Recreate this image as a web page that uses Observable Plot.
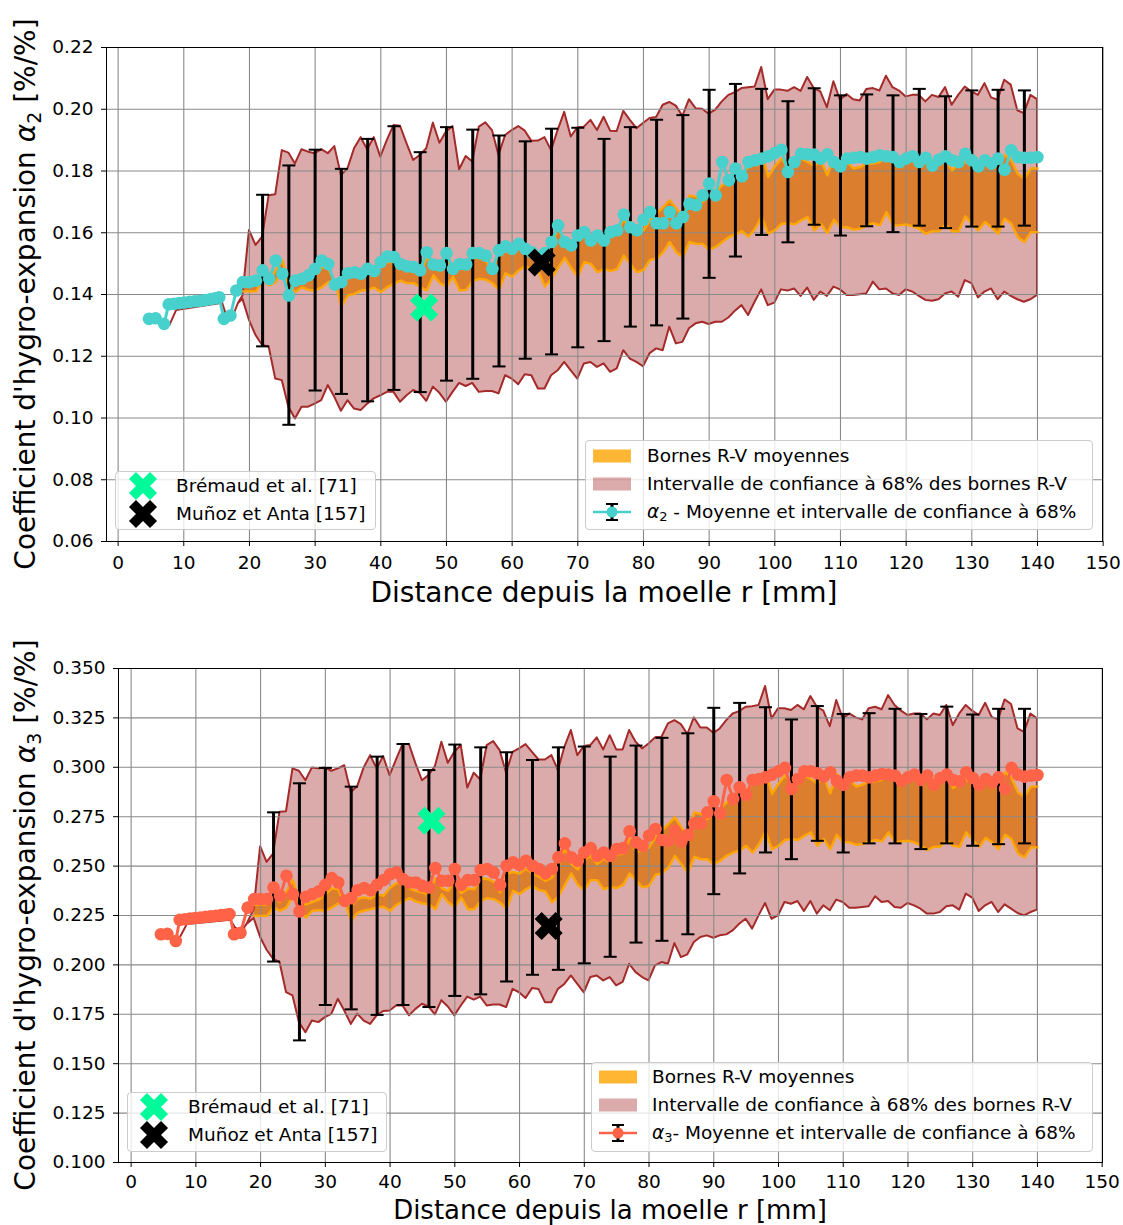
<!DOCTYPE html>
<html><head><meta charset="utf-8">
<script src="https://cdn.jsdelivr.net/npm/d3@7"></script>
<script src="https://cdn.jsdelivr.net/npm/@observablehq/plot@0.6"></script>
<style>
html,body{margin:0;padding:0;background:#fff;overflow:hidden;width:1123px;height:1225px;position:relative}
body{font-family:"DejaVu Sans",sans-serif;color:#000}
.panel{position:absolute;left:0;width:1123px}
.leg{position:absolute;box-sizing:border-box;border:1px solid #cccccc;border-radius:4px;background:rgba(255,255,255,0.8)}
.ltxt{position:absolute;height:28px;line-height:28px;font-size:18.5px;white-space:nowrap}
.lsym{position:absolute}
</style></head><body>
<div id="p1" class="panel" style="top:0;height:620px"></div>
<div id="p2" class="panel" style="top:620px;height:605px"></div>
<script>
// ---------- shared positions ----------
const xTicks = [0,10,20,30,40,50,60,70,80,90,100,110,120,130,140,150];
const bandR = d3.range(19, 141);      // r (mm) of band samples
const meanR = d3.range(18, 141);      // r (mm) of mean samples
const barR = [22,26,30,34,38,42,46,50,54,58,62,66,70,74,78,82,86,90,94,98,102,106,110,114,118,122,126,130,134,138];

// ---------- panel 1 : alpha2 ----------
const a2MeanEarlyR = [4.7,5.7,7.0,7.7,8.5,9.3,10.1,10.9,11.7,12.5,13.3,14.1,14.8,15.4,16.1,17.1];
const a2MeanEarly = [0.1321,0.1323,0.1305,0.1368,0.1370,0.1372,0.1374,0.1376,0.1378,0.1380,0.1382,0.1385,0.1388,0.1391,0.1321,0.1332];
const a2CiEarlyR = [7.9,8.9,15.9,16.6,17.6,18.3];
const a2CiEarly = [0.1300,0.1348,0.1372,0.1326,0.1332,0.1370];
const a2CiHi = [
0.1395,0.1607,0.1559,0.1586,0.1720,0.1723,0.1866,0.1858,0.1823,0.1869,
0.1861,0.1856,0.1869,0.1856,0.1879,0.1785,0.1807,0.1872,0.1908,0.1869,
0.1908,0.1845,0.1899,0.1947,0.1945,0.1888,0.1834,0.1850,0.1872,0.1955,
0.1890,0.1926,0.1944,0.1804,0.1847,0.1829,0.1942,0.1956,0.1931,0.1850,
0.1915,0.1931,0.1944,0.1929,0.1896,0.1897,0.1908,0.1866,0.1931,0.1990,
0.1910,0.1940,0.1942,0.1964,0.1931,0.1974,0.1929,0.1928,0.1993,0.1964,
0.1937,0.1954,0.1970,0.1973,0.2013,0.2022,0.2010,0.1977,0.2031,0.2002,
0.2000,0.1984,0.1997,0.2024,0.2045,0.2054,0.2067,0.2070,0.2072,0.2135,
0.2031,0.2062,0.2062,0.2058,0.2070,0.2058,0.2103,0.2067,0.2056,0.2005,
0.2089,0.2029,0.2048,0.2031,0.2027,0.2064,0.2067,0.2059,0.2107,0.2070,
0.2059,0.2040,0.2045,0.2045,0.2024,0.2045,0.2038,0.2070,0.2013,0.2045,
0.2072,0.2056,0.2045,0.2083,0.2037,0.2029,0.2094,0.2078,0.1995,0.1986,
0.2045,0.2031];
const a2CiLo = [
0.1385,0.1316,0.1267,0.1235,0.1230,0.1126,0.1121,0.1035,0.0997,0.1035,
0.1035,0.1045,0.1056,0.1105,0.1067,0.1022,0.1056,0.1029,0.1024,0.1045,
0.1062,0.1072,0.1083,0.1083,0.1051,0.1072,0.1089,0.1080,0.1054,0.1100,
0.1080,0.1051,0.1083,0.1112,0.1102,0.1112,0.1083,0.1086,0.1086,0.1078,
0.1137,0.1126,0.1108,0.1140,0.1137,0.1094,0.1094,0.1137,0.1153,0.1180,
0.1153,0.1126,0.1175,0.1180,0.1164,0.1175,0.1148,0.1159,0.1218,0.1191,
0.1180,0.1166,0.1208,0.1224,0.1218,0.1294,0.1240,0.1245,0.1289,0.1305,
0.1310,0.1303,0.1310,0.1310,0.1324,0.1346,0.1364,0.1332,0.1375,0.1415,
0.1364,0.1372,0.1415,0.1411,0.1418,0.1394,0.1421,0.1381,0.1408,0.1394,
0.1424,0.1415,0.1397,0.1397,0.1399,0.1402,0.1440,0.1415,0.1418,0.1402,
0.1397,0.1415,0.1408,0.1394,0.1381,0.1378,0.1383,0.1402,0.1408,0.1391,
0.1445,0.1435,0.1389,0.1408,0.1418,0.1383,0.1408,0.1394,0.1383,0.1375,
0.1383,0.1397];
const a2RvLo = [
0.1410,0.1410,0.1410,0.1445,0.1430,0.1440,0.1476,0.1430,0.1408,0.1424,
0.1415,0.1413,0.1424,0.1440,0.1443,0.1361,0.1397,0.1402,0.1413,0.1415,
0.1422,0.1408,0.1424,0.1435,0.1445,0.1437,0.1437,0.1424,0.1413,0.1462,
0.1437,0.1426,0.1458,0.1413,0.1415,0.1443,0.1451,0.1448,0.1437,0.1415,
0.1469,0.1458,0.1478,0.1493,0.1478,0.1476,0.1426,0.1451,0.1486,0.1519,
0.1486,0.1458,0.1505,0.1499,0.1472,0.1483,0.1476,0.1483,0.1526,0.1499,
0.1472,0.1480,0.1512,0.1516,0.1537,0.1570,0.1537,0.1521,0.1570,0.1564,
0.1564,0.1545,0.1554,0.1570,0.1586,0.1595,0.1605,0.1588,0.1613,0.1653,
0.1597,0.1608,0.1629,0.1631,0.1627,0.1640,0.1651,0.1608,0.1629,0.1599,
0.1642,0.1618,0.1618,0.1610,0.1613,0.1624,0.1631,0.1624,0.1667,0.1624,
0.1624,0.1627,0.1621,0.1613,0.1597,0.1605,0.1605,0.1627,0.1605,0.1605,
0.1653,0.1629,0.1608,0.1635,0.1618,0.1597,0.1645,0.1631,0.1586,0.1570,
0.1602,0.1602];
const a2RvHi = [
0.1435,0.1437,0.1437,0.1462,0.1445,0.1478,0.1510,0.1440,0.1437,0.1445,
0.1452,0.1468,0.1488,0.1485,0.1437,0.1432,0.1455,0.1460,0.1455,0.1470,
0.1465,0.1490,0.1505,0.1505,0.1488,0.1480,0.1475,0.1468,0.1520,0.1488,
0.1480,0.1515,0.1472,0.1488,0.1485,0.1520,0.1518,0.1510,0.1475,0.1535,
0.1540,0.1535,0.1550,0.1535,0.1525,0.1512,0.1522,0.1555,0.1618,0.1565,
0.1548,0.1580,0.1590,0.1565,0.1582,0.1568,0.1595,0.1598,0.1645,0.1605,
0.1597,0.1608,0.1640,0.1662,0.1683,0.1705,0.1678,0.1651,0.1721,0.1716,
0.1700,0.1716,0.1732,0.1754,0.1764,0.1781,0.1791,0.1813,0.1835,0.1862,
0.1781,0.1815,0.1840,0.1813,0.1835,0.1840,0.1829,0.1815,0.1835,0.1786,
0.1845,0.1824,0.1829,0.1808,0.1813,0.1824,0.1824,0.1829,0.1851,0.1829,
0.1824,0.1832,0.1835,0.1818,0.1851,0.1802,0.1824,0.1835,0.1802,0.1824,
0.1829,0.1818,0.1813,0.1829,0.1824,0.1813,0.1851,0.1835,0.1791,0.1775,
0.1808,0.1808];
const a2Mean = [
0.1413,0.1440,0.1440,0.1445,0.1478,0.1451,0.1510,0.1467,0.1397,0.1445,
0.1451,0.1462,0.1483,0.1510,0.1499,0.1432,0.1440,0.1469,0.1472,0.1467,
0.1483,0.1476,0.1505,0.1523,0.1521,0.1499,0.1491,0.1489,0.1478,0.1537,
0.1497,0.1494,0.1534,0.1483,0.1499,0.1497,0.1534,0.1534,0.1526,0.1483,
0.1543,0.1556,0.1548,0.1564,0.1548,0.1537,0.1521,0.1534,0.1570,0.1624,
0.1570,0.1559,0.1591,0.1602,0.1575,0.1591,0.1575,0.1602,0.1608,0.1659,
0.1618,0.1608,0.1642,0.1667,0.1631,0.1631,0.1667,0.1631,0.1651,0.1694,
0.1689,0.1721,0.1759,0.1721,0.1829,0.1770,0.1808,0.1783,0.1829,0.1835,
0.1840,0.1848,0.1858,0.1869,0.1797,0.1829,0.1856,0.1854,0.1853,0.1840,
0.1854,0.1829,0.1815,0.1840,0.1843,0.1845,0.1840,0.1845,0.1851,0.1848,
0.1845,0.1829,0.1840,0.1848,0.1829,0.1843,0.1818,0.1837,0.1848,0.1835,
0.1829,0.1856,0.1835,0.1815,0.1835,0.1824,0.1840,0.1804,0.1867,0.1845,
0.1843,0.1843,0.1845];
const a2BarHi = [0.1723,0.1818,0.1869,0.1807,0.1904,0.1945,0.1861,0.1942,0.1934,0.1915,0.1896,0.1937,0.1940,0.1904,0.1942,0.1966,0.1981,0.2063,0.2082,0.2066,0.2026,0.2068,0.2045,0.2048,0.2045,0.2066,0.2042,0.2061,0.2063,0.2061];
const a2BarLo = [0.1232,0.0978,0.1089,0.1078,0.1054,0.1091,0.1084,0.1121,0.1127,0.1167,0.1192,0.1206,0.1229,0.1249,0.1296,0.1300,0.1322,0.1454,0.1523,0.1593,0.1569,0.1626,0.1591,0.1621,0.1602,0.1623,0.1615,0.1620,0.1620,0.1623];
const a2Bremaud = [46.6, 0.1358];
const a2Munoz = [64.5, 0.1504];
const a2YTicks = [0.06,0.08,0.10,0.12,0.14,0.16,0.18,0.20,0.22];

// ---------- panel 2 : alpha3 ----------
const a3MeanEarlyR = [4.6,5.6,6.9,7.5,8.3,9.1,9.9,10.7,11.5,12.3,13.1,13.9,14.6,15.2,15.9,16.9];
const a3MeanEarly = [0.2155,0.2157,0.2121,0.2228,0.2231,0.2234,0.2237,0.2240,0.2243,0.2246,0.2249,0.2252,0.2254,0.2257,0.2155,0.2163];
const a3CiEarlyR = [7.6,8.7,15.4,16.1,17.1,17.9];
const a3CiEarly = [0.2137,0.2205,0.2226,0.2188,0.2165,0.2205];
const a3CiHi = [
0.2280,0.2598,0.2519,0.2561,0.2772,0.2775,0.2992,0.2980,0.2932,0.2997,
0.2992,0.2997,0.2980,0.2992,0.3008,0.2873,0.2902,0.2997,0.3059,0.2992,
0.3054,0.2958,0.3037,0.3115,0.3115,0.3017,0.2932,0.2958,0.3003,0.3127,
0.3020,0.3076,0.3110,0.2895,0.2970,0.2936,0.3110,0.3130,0.3084,0.2970,
0.3076,0.3093,0.3115,0.3076,0.3037,0.3037,0.3059,0.2983,0.3101,0.3186,
0.3059,0.3105,0.3110,0.3149,0.3088,0.3160,0.3088,0.3088,0.3186,0.3127,
0.3093,0.3118,0.3149,0.3152,0.3220,0.3236,0.3216,0.3166,0.3250,0.3199,
0.3199,0.3172,0.3194,0.3236,0.3270,0.3282,0.3304,0.3307,0.3313,0.3409,
0.3245,0.3296,0.3296,0.3287,0.3313,0.3291,0.3358,0.3304,0.3284,0.3206,
0.3338,0.3245,0.3270,0.3250,0.3240,0.3296,0.3304,0.3291,0.3363,0.3313,
0.3284,0.3262,0.3270,0.3270,0.3240,0.3270,0.3262,0.3313,0.3211,0.3270,
0.3313,0.3284,0.3262,0.3324,0.3253,0.3240,0.3341,0.3318,0.3194,0.3177,
0.3270,0.3245];
const a3CiLo = [
0.2235,0.2139,0.2074,0.2029,0.2012,0.1860,0.1843,0.1708,0.1657,0.1716,
0.1708,0.1733,0.1750,0.1826,0.1767,0.1699,0.1750,0.1716,0.1699,0.1742,
0.1764,0.1767,0.1792,0.1792,0.1742,0.1775,0.1801,0.1787,0.1747,0.1819,
0.1787,0.1742,0.1792,0.1837,0.1822,0.1837,0.1792,0.1797,0.1797,0.1784,
0.1876,0.1859,0.1830,0.1880,0.1876,0.1809,0.1809,0.1876,0.1901,0.1944,
0.1901,0.1859,0.1936,0.1944,0.1919,0.1936,0.1894,0.1911,0.2003,0.1961,
0.1936,0.1919,0.1995,0.2012,0.2003,0.2108,0.2037,0.2051,0.2113,0.2139,
0.2147,0.2135,0.2147,0.2152,0.2172,0.2206,0.2231,0.2181,0.2248,0.2311,
0.2231,0.2248,0.2316,0.2307,0.2321,0.2270,0.2321,0.2257,0.2299,0.2274,
0.2328,0.2316,0.2287,0.2287,0.2291,0.2294,0.2345,0.2316,0.2321,0.2291,
0.2287,0.2311,0.2299,0.2282,0.2257,0.2257,0.2265,0.2294,0.2299,0.2277,
0.2358,0.2338,0.2270,0.2299,0.2316,0.2265,0.2304,0.2282,0.2260,0.2248,
0.2265,0.2277];
const a3RvLo = [
0.2248,0.2248,0.2248,0.2290,0.2274,0.2290,0.2350,0.2290,0.2240,0.2274,
0.2277,0.2274,0.2290,0.2311,0.2316,0.2223,0.2265,0.2274,0.2282,0.2290,
0.2294,0.2274,0.2304,0.2321,0.2338,0.2321,0.2311,0.2307,0.2282,0.2358,
0.2316,0.2294,0.2341,0.2282,0.2282,0.2324,0.2338,0.2333,0.2316,0.2282,
0.2375,0.2358,0.2383,0.2400,0.2378,0.2372,0.2316,0.2345,0.2405,0.2463,
0.2405,0.2378,0.2429,0.2429,0.2383,0.2395,0.2389,0.2405,0.2463,0.2429,
0.2392,0.2400,0.2456,0.2463,0.2493,0.2552,0.2510,0.2468,0.2547,0.2535,
0.2535,0.2510,0.2527,0.2552,0.2569,0.2578,0.2603,0.2569,0.2611,0.2676,
0.2586,0.2603,0.2632,0.2637,0.2632,0.2654,0.2671,0.2603,0.2637,0.2586,
0.2659,0.2620,0.2620,0.2608,0.2611,0.2625,0.2632,0.2625,0.2671,0.2620,
0.2625,0.2628,0.2620,0.2603,0.2581,0.2598,0.2598,0.2632,0.2603,0.2598,
0.2671,0.2632,0.2598,0.2642,0.2620,0.2586,0.2659,0.2637,0.2564,0.2544,
0.2595,0.2595];
const a3RvHi = [
0.2303,0.2306,0.2306,0.2345,0.2318,0.2372,0.2430,0.2315,0.2306,0.2318,
0.2330,0.2355,0.2387,0.2382,0.2306,0.2298,0.2335,0.2342,0.2335,0.2358,
0.2350,0.2390,0.2414,0.2414,0.2387,0.2375,0.2366,0.2355,0.2438,0.2387,
0.2375,0.2430,0.2362,0.2387,0.2382,0.2438,0.2435,0.2422,0.2366,0.2462,
0.2470,0.2462,0.2486,0.2462,0.2446,0.2425,0.2441,0.2494,0.2595,0.2510,
0.2483,0.2534,0.2550,0.2510,0.2538,0.2515,0.2558,0.2563,0.2638,0.2574,
0.2578,0.2595,0.2645,0.2679,0.2713,0.2747,0.2696,0.2654,0.2772,0.2764,
0.2738,0.2764,0.2789,0.2823,0.2840,0.2865,0.2882,0.2916,0.2941,0.2986,
0.2865,0.2916,0.2958,0.2916,0.2949,0.2958,0.2941,0.2916,0.2949,0.2868,
0.2966,0.2932,0.2936,0.2902,0.2912,0.2929,0.2929,0.2936,0.2975,0.2936,
0.2929,0.2941,0.2946,0.2919,0.2975,0.2899,0.2932,0.2946,0.2895,0.2929,
0.2936,0.2919,0.2912,0.2936,0.2929,0.2912,0.2975,0.2946,0.2873,0.2851,
0.2902,0.2902];
const a3Mean = [
0.2290,0.2333,0.2333,0.2333,0.2392,0.2350,0.2451,0.2358,0.2270,0.2345,
0.2358,0.2372,0.2405,0.2439,0.2417,0.2324,0.2338,0.2378,0.2389,0.2378,
0.2405,0.2429,0.2459,0.2468,0.2434,0.2417,0.2417,0.2400,0.2392,0.2490,
0.2426,0.2426,0.2485,0.2405,0.2429,0.2429,0.2480,0.2485,0.2468,0.2405,
0.2502,0.2519,0.2507,0.2527,0.2502,0.2485,0.2463,0.2485,0.2544,0.2615,
0.2544,0.2527,0.2569,0.2591,0.2552,0.2569,0.2552,0.2586,0.2591,0.2676,
0.2620,0.2603,0.2654,0.2688,0.2632,0.2628,0.2679,0.2625,0.2659,0.2716,
0.2716,0.2772,0.2828,0.2767,0.2936,0.2840,0.2899,0.2861,0.2936,0.2941,
0.2949,0.2963,0.2980,0.2997,0.2890,0.2941,0.2980,0.2980,0.2970,0.2953,
0.2975,0.2932,0.2912,0.2949,0.2958,0.2958,0.2949,0.2958,0.2966,0.2963,
0.2958,0.2932,0.2949,0.2963,0.2936,0.2958,0.2912,0.2946,0.2963,0.2936,
0.2929,0.2975,0.2946,0.2912,0.2941,0.2924,0.2949,0.2890,0.2997,0.2963,
0.2953,0.2958,0.2961];
const a3BarHi = [0.2772,0.2919,0.2997,0.2902,0.3054,0.3118,0.2986,0.3115,0.3101,0.3076,0.3037,0.3101,0.3105,0.3054,0.3110,0.3149,0.3172,0.3301,0.3326,0.3304,0.3242,0.3310,0.3270,0.3274,0.3296,0.3270,0.3307,0.3267,0.3296,0.3296];
const a3BarLo = [0.2017,0.1618,0.1797,0.1775,0.1747,0.1797,0.1787,0.1843,0.1851,0.1916,0.1950,0.1975,0.2008,0.2041,0.2113,0.2122,0.2155,0.2358,0.2463,0.2569,0.2535,0.2628,0.2569,0.2615,0.2615,0.2586,0.2615,0.2603,0.2611,0.2615];
const a3Bremaud = [46.4, 0.2729];
const a3Munoz = [64.5, 0.2197];
const a3YTicks = [0.100,0.125,0.150,0.175,0.200,0.225,0.250,0.275,0.300,0.325,0.350];

// ---------- styles ----------
const BROWN = "#a52a2a", ORANGE = "orange", GREEN = "#00fa9a";
const capSym = {draw(ctx, size){ const w = Math.sqrt(size/Math.PI); ctx.moveTo(-w,0); ctx.lineTo(w,0); }};

function makePanel(cfg){
  const ci = cfg.ciEarlyR.map((r,i)=>({r, lo:cfg.ciEarly[i], hi:cfg.ciEarly[i]}))
    .concat(bandR.map((r,i)=>({r, lo:cfg.ciLo[i], hi:cfg.ciHi[i]})));
  const rv = bandR.map((r,i)=>({r, lo:cfg.rvLo[i], hi:cfg.rvHi[i]}));
  const mean = cfg.meanEarlyR.map((r,i)=>({r, v:cfg.meanEarly[i]}))
    .concat(meanR.map((r,i)=>({r, v:cfg.mean[i]})));
  const bars = barR.map((r,i)=>({r, lo:cfg.barLo[i], hi:cfg.barHi[i]}));
  const grid = {stroke:"#8a8a8a", strokeOpacity:1, strokeWidth:1.1};
  const svg = Plot.plot({
    width:1123, height:cfg.height,
    marginTop:cfg.mt, marginBottom:cfg.mb, marginLeft:cfg.ml, marginRight:21,
    x:{domain:cfg.xDomain},
    y:{domain:cfg.yDomain},
    style:{fontFamily:"DejaVu Sans", fontSize:"18.5px", background:"white", color:"black"},
    marks:[
      Plot.areaY(rv, {x:"r", y1:"lo", y2:"hi", fill:ORANGE, fillOpacity:0.8}),
      Plot.areaY(ci, {x:"r", y1:"lo", y2:"hi", fill:BROWN, fillOpacity:0.4, stroke:BROWN, strokeWidth:2, strokeLinejoin:"round"}),
      Plot.gridX({ticks:xTicks, ...grid}),
      Plot.gridY({ticks:cfg.yTicks, ...grid}),
      Plot.lineY(rv, {x:"r", y:"lo", stroke:ORANGE, strokeWidth:2.4}),
      Plot.lineY(rv, {x:"r", y:"hi", stroke:ORANGE, strokeWidth:2.4}),
      Plot.ruleX(bars, {x:"r", y1:"lo", y2:"hi", stroke:"black", strokeWidth:3}),
      Plot.dot(bars, {x:"r", y:"lo", symbol:capSym, r:6.5, stroke:"black", strokeWidth:2, fill:"none"}),
      Plot.dot(bars, {x:"r", y:"hi", symbol:capSym, r:6.5, stroke:"black", strokeWidth:2, fill:"none"}),
      Plot.line(mean, {x:"r", y:"v", stroke:cfg.color, strokeWidth:3}),
      Plot.dot(mean, {x:"r", y:"v", fill:cfg.color, r:6.3}),
      Plot.dot([cfg.bremaud], {x:d=>d[0], y:d=>d[1], symbol:"cross", rotate:45, r:12.5, fill:GREEN}),
      Plot.dot([cfg.munoz], {x:d=>d[0], y:d=>d[1], symbol:"cross", rotate:45, r:12.5, fill:"black"}),
      Plot.frame({stroke:"black", strokeWidth:1}),
      Plot.axisX({ticks:xTicks, tickSize:5, tickPadding:cfg.xPad, label:null}),
      Plot.axisY({ticks:cfg.yTicks, tickFormat:d3.format(cfg.fmt), tickSize:5, tickPadding:8, label:null})
    ]
  });
  const s = d3.select(svg);
  s.append("text").attr("x", (cfg.ml + 1102)/2).attr("y", cfg.xLabY)
    .attr("text-anchor","middle").attr("font-size",cfg.xLabSize).attr("fill","black")
    .text("Distance depuis la moelle r [mm]");
  const yl = s.append("text").attr("transform", `translate(${cfg.yLabX},${cfg.mt + (cfg.height-cfg.mt-cfg.mb)/2}) rotate(-90)`)
    .attr("text-anchor","middle").attr("font-size",28).attr("fill","black");
  yl.append("tspan").text("Coefficient d'hygro-expansion ");
  yl.append("tspan").attr("font-style","italic").text("α");
  yl.append("tspan").attr("font-size",19).attr("dy",6).text(cfg.sub);
  yl.append("tspan").attr("dy",-6).text(" [%/%]");
  document.getElementById(cfg.id).appendChild(svg);
}

makePanel({id:"p1", height:620, mt:47, mb:79, ml:106, xDomain:[-1.77,149.9], yDomain:[0.06,0.22],
  yTicks:a2YTicks, fmt:".2f", color:"#48d1cc", sub:"2", xLabY:602, xLabSize:28, xPad:9, yLabX:35,
  ciEarlyR:a2CiEarlyR, ciEarly:a2CiEarly, ciHi:a2CiHi, ciLo:a2CiLo, rvLo:a2RvLo, rvHi:a2RvHi,
  meanEarlyR:a2MeanEarlyR, meanEarly:a2MeanEarly, mean:a2Mean, barHi:a2BarHi, barLo:a2BarLo,
  bremaud:a2Bremaud, munoz:a2Munoz});
makePanel({id:"p2", height:605, mt:48, mb:63, ml:118, xDomain:[-1.95,150.05], yDomain:[0.1,0.35],
  yTicks:a3YTicks, fmt:".3f", color:"#ff6347", sub:"3", xLabY:598.5, xLabSize:26, xPad:7, yLabX:35,
  ciEarlyR:a3CiEarlyR, ciEarly:a3CiEarly, ciHi:a3CiHi, ciLo:a3CiLo, rvLo:a3RvLo, rvHi:a3RvHi,
  meanEarlyR:a3MeanEarlyR, meanEarly:a3MeanEarly, mean:a3Mean, barHi:a3BarHi, barLo:a3BarLo,
  bremaud:a3Bremaud, munoz:a3Munoz});

// ---------- legends (HTML overlay) ----------
const xPath = d3.symbol(d3.symbolCross, Math.PI*12.5*12.5)();
function symX(color){ return `<svg width="30" height="30"><path d="${xPath}" transform="translate(15,15) rotate(45)" fill="${color}"/></svg>`; }
function symPatch(color, op){ return `<svg width="38" height="28"><rect x="0" y="7.5" width="38" height="13" fill="${color}" fill-opacity="${op}"/></svg>`; }
function symErr(color){
  return `<svg width="38" height="28"><line x1="0" x2="38" y1="14" y2="14" stroke="${color}" stroke-width="2.5"/>`+
  `<line x1="19" x2="19" y1="6" y2="22" stroke="black" stroke-width="3"/>`+
  `<line x1="13" x2="25" y1="6" y2="6" stroke="black" stroke-width="2"/>`+
  `<line x1="13" x2="25" y1="22" y2="22" stroke="black" stroke-width="2"/>`+
  `<circle cx="19" cy="14" r="5.5" fill="${color}"/></svg>`;
}
function legend(box, rows){
  const b = document.createElement("div"); b.className = "leg";
  Object.assign(b.style, {left:box[0]+"px", top:box[1]+"px", width:box[2]+"px", height:box[3]+"px"});
  document.body.appendChild(b);
  for (const row of rows){
    const s = document.createElement("div"); s.className = "lsym";
    s.innerHTML = row.sym;
    const w = row.symW;
    Object.assign(s.style, {left:(row.symX - w/2)+"px", top:(row.y - (row.symH/2))+"px", width:w+"px", height:row.symH+"px"});
    document.body.appendChild(s);
    const t = document.createElement("div"); t.className = "ltxt";
    Object.assign(t.style, {left:row.textX+"px", top:(row.y-14)+"px"});
    t.innerHTML = row.text;
    document.body.appendChild(t);
  }
}
const legText = {
  rv: "Bornes R-V moyennes",
  ci: "Intervalle de confiance à 68% des bornes R-V",
  m2: "<i>α</i><sub style='font-size:13px;vertical-align:-3px'>2</sub> - Moyenne et intervalle de confiance à 68%",
  m3: "<i>α</i><sub style='font-size:13px;vertical-align:-3px'>3</sub>- Moyenne et intervalle de confiance à 68%",
  b: "Brémaud et al. [71]",
  m: "Muñoz et Anta [157]"
};
legend([585,440,508,90], [
  {y:456, symX:612, symW:38, symH:28, sym:symPatch("orange",0.8), textX:647, text:legText.rv},
  {y:484, symX:612, symW:38, symH:28, sym:symPatch(BROWN,0.4), textX:647, text:legText.ci},
  {y:512, symX:612, symW:38, symH:28, sym:symErr("#48d1cc"), textX:647, text:legText.m2}
]);
legend([115,471,261,59], [
  {y:486, symX:143, symW:30, symH:30, sym:symX(GREEN), textX:176, text:legText.b},
  {y:514, symX:143, symW:30, symH:30, sym:symX("black"), textX:176, text:legText.m}
]);
legend([591,1062,502,90], [
  {y:1077, symX:618, symW:38, symH:28, sym:symPatch("orange",0.8), textX:652, text:legText.rv},
  {y:1105, symX:618, symW:38, symH:28, sym:symPatch(BROWN,0.4), textX:652, text:legText.ci},
  {y:1133, symX:618, symW:38, symH:28, sym:symErr("#ff6347"), textX:652, text:legText.m3}
]);
legend([127,1092,260,60], [
  {y:1107, symX:154, symW:30, symH:30, sym:symX(GREEN), textX:188, text:legText.b},
  {y:1135, symX:154, symW:30, symH:30, sym:symX("black"), textX:188, text:legText.m}
]);
</script>
</body></html>
